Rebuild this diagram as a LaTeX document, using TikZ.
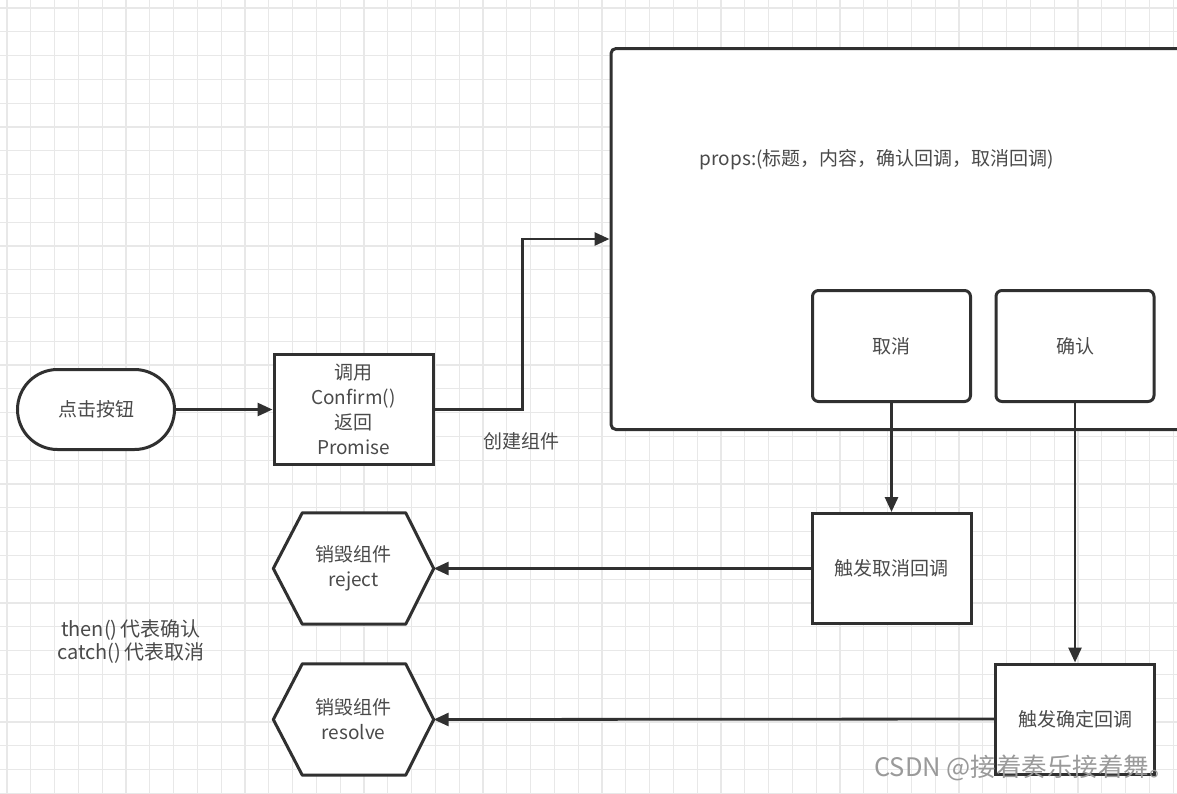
\documentclass[tikz,border=0pt]{standalone}
\usepackage{fontspec}
\setmainfont{Noto Sans CJK SC}
\usetikzlibrary{arrows.meta,shapes.misc,calc}
\definecolor{ln}{HTML}{303030}
\definecolor{tx}{HTML}{4A4A4A}
\definecolor{gridc}{HTML}{E8E8E8}
\definecolor{wmc}{HTML}{9A9A9A}
\tikzset{
  shp/.style={draw=ln,line width=3pt,fill=white,inner sep=0pt,text=tx,
    font=\fontsize{19}{25}\selectfont,align=center},
  sqbox/.style={shp,minimum width=159pt,minimum height=110pt},
  rbox/.style={shp,rounded corners=6pt,minimum width=158pt,minimum height=111pt},
  hexbox/.style={inner sep=0pt,minimum width=160pt,minimum height=111pt},
  hexline/.style={draw=ln,line width=3pt,fill=white,line join=round},
  txt/.style={text=tx,font=\fontsize{19}{25}\selectfont,align=center,inner sep=0pt},
  conn/.style={draw=ln,line width=2.8pt,-{Triangle[length=15pt,width=13pt]}},
}
\begin{document}
\begin{tikzpicture}[x=1pt,y=-1pt]
\useasboundingbox (0,0) rectangle (1177,793);
\clip (0,0) rectangle (1177,793);
\fill[white] (0,0) rectangle (1177,793);
% grid
\foreach \i in {0,...,49} {
  \draw[gridc,line width=1.3pt] ({7+\i*23.8},0) -- ({7+\i*23.8},793);
}
\foreach \j in {0,...,33} {
  \draw[gridc,line width=1.3pt] (0,{8+\j*23.8}) -- (1177,{8+\j*23.8});
}
% big component box
\node[shp,rounded corners=5pt,minimum width=580pt,minimum height=381pt] (big) at (901,239) {};
\node[txt] (props) at (877,160) {props:(标题，内容，确认回调，取消回调)};
\node[rbox] (cancel) at (891.5,346) {取消};
\node[rbox] (ok) at (1075,346) {确认};
% start
\node[shp,rounded rectangle,minimum width=157pt,minimum height=80pt] (start) at (96,409.5) {点击按钮};
\node[sqbox] (conf) at (353.5,409.5) {调用\\Confirm()\\返回\\Promise};
\node[txt] (create) at (521,441) {创建组件};
% triggers
\node[sqbox] (tcancel) at (891.5,568.5) {触发取消回调};
\node[sqbox] (tok) at (1075,719) {触发确定回调};
% hexagons
\node[hexbox] (rej) at (353.5,568.5) {};
\draw[hexline] (rej.west) -- ($(rej.north west)+(29,0)$) -- ($(rej.north east)+(-28,0)$) -- (rej.east) -- ($(rej.south east)+(-28,0)$) -- ($(rej.south west)+(29,0)$) -- cycle;
\node[txt] (rejt) at (rej) {销毁组件\\reject};
\node[hexbox] (res) at (353.5,719.5) {};
\draw[hexline] (res.west) -- ($(res.north west)+(29,0)$) -- ($(res.north east)+(-28,0)$) -- (res.east) -- ($(res.south east)+(-28,0)$) -- ($(res.south west)+(29,0)$) -- cycle;
\node[txt] (rest) at (res) {销毁组件\\resolve};
% note
\node[txt,font=\fontsize{20}{23}\selectfont] (note) at (131,642) {then()\,代表确认\\catch()\,代表取消};
% connectors
\draw[conn] (start.east) -- (conf.west);
\draw[conn] (conf.east) -- ++(88,0) |- (big.west);
\draw[conn] (cancel.south) -- (tcancel.north);
\draw[conn] (ok.south) -- (tok.north);
\draw[conn] (tcancel.west) -- (rej.east);
\draw[conn] (tok.west) -- (res.east);
% watermark
\node[text=wmc,font=\fontsize{25.5}{28}\selectfont,anchor=east,inner sep=0pt] (wm) at (1175,768) {CSDN @接着奏乐接着舞。};
\end{tikzpicture}
\end{document}
